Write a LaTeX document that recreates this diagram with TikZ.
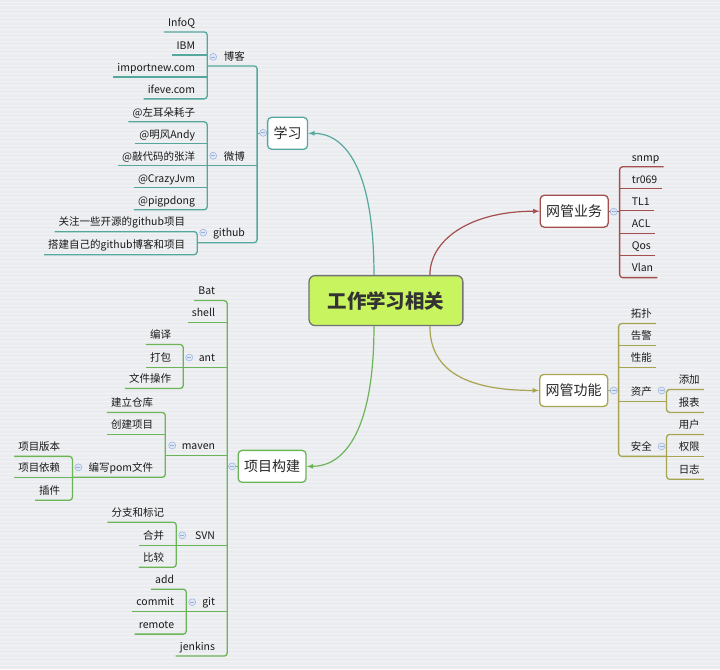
\documentclass[tikz,border=0pt]{standalone}
\usepackage{fontspec}
\setmainfont{Noto Sans CJK SC}
\usepackage{tikz}
\usetikzlibrary{arrows}
\tikzset{>=latex}
\definecolor{bgcolor}{RGB}{234,236,239}
\definecolor{stripe}{RGB}{242,243,245}
\definecolor{tealline}{RGB}{86,168,158}
\definecolor{greenline}{RGB}{108,180,88}
\definecolor{redline}{RGB}{164,78,78}
\definecolor{oliveline}{RGB}{168,164,80}
\definecolor{topicfill}{RGB}{200,244,96}
\definecolor{foldblue}{RGB}{150,176,222}
\tikzset{
  topic/.style={draw=black!55, fill=topicfill, rounded corners=6pt, line width=1.3pt,
    minimum width=154pt, minimum height=50pt, text=black!80,
    font=\fontsize{19.5}{22}\selectfont\bfseries},
  branch/.style={fill=white, rounded corners=4pt, line width=1.3pt, inner xsep=6pt,
    minimum height=32pt, text=black!85, font=\fontsize{14}{16}\selectfont},
  leaf/.style={inner xsep=4pt, inner ysep=3pt, text height=8pt, text depth=2.5pt,
    text=black!90, font=\fontsize{10.5}{12}\selectfont},
  link/.style={line width=1.3pt, rounded corners=3pt},
  curve/.style={line width=1.2pt, ->},
  fold/.pic={\draw[foldblue, fill=foldblue!30, line width=0.5pt] (0,0) circle (3.5pt);%
    \draw[foldblue, line width=0.8pt] (-2,0) -- (2,0);},
}

\begin{document}
\begin{tikzpicture}[x=1pt, y=-1pt]
  \fill[bgcolor] (0,0) rectangle (720,670);%
  \foreach \y in {2,6,...,668}
    \draw[stripe, line width=1pt] (0,\y) -- (720,\y);%
  \node[topic] (main) at (386,301) {工作学习相关};%
  % 学习
  \coordinate (xxS) at (257,0);%
  \coordinate (bkS) at (207,0);%
  \coordinate (wbS) at (207,0);%
  \coordinate (ghS) at (197,0);%
  \node[branch, draw=tealline] (xuexi) at (287.5,133.5) {学习};%
  \node[leaf, anchor=south east] (boke) at (249,66) {博客};%
  \node[leaf, anchor=south east] (weibo) at (249,166) {微博};%
  \node[leaf, anchor=south east] (gith) at (249,243) {github};%
  \foreach \n/\y/\t in {infoq/32/InfoQ, ibm/55/IBM, impnew/77/importnew.com, ifeve/99/ifeve.com}
    \node[leaf, anchor=south east] (\n) at (199,\y) {\t};%
  \foreach \n/\y/\t in {zuoer/122/@左耳朵耗子, mingfeng/144/@明风Andy, zhangyang/166/@敲代码的张洋,
      crazy/188/@CrazyJvm, pigp/210/@pigpdong}
    \node[leaf, anchor=south east] (\n) at (199,\y) {\t};%
  \foreach \n/\y/\t in {guanzhu/232/关注一些开源的github项目, dajian/255/搭建自己的github博客和项目}
    \node[leaf, anchor=south east] (\n) at (189,\y) {\t};%
  \draw[curve, tealline] ([xshift=-12pt]main.north) .. controls +(0,-110) and +(35,0) .. (xuexi.east);%
  \draw[link, tealline] (xuexi.west) -- (xuexi.west -| xxS);%
  \draw[link, tealline] (boke.south west -| bkS) -- (boke.south west -| xxS) -- (gith.south west -| xxS) -- (gith.south west -| ghS);%
  \draw[link, tealline] (weibo.south west -| wbS) -- (weibo.south west -| xxS);%
  \draw[link, tealline] (infoq.south west) -- (infoq.south west -| bkS) -- (ifeve.south west -| bkS) -- (ifeve.south west);%
  \foreach \n in {ibm, impnew}
    \draw[link, tealline] (\n.south west) -- (\n.south west -| bkS);%
  \draw[link, tealline] (zuoer.south west) -- (zuoer.south west -| wbS) -- (pigp.south west -| wbS) -- (pigp.south west);%
  \foreach \n in {mingfeng, zhangyang, crazy}
    \draw[link, tealline] (\n.south west) -- (\n.south west -| wbS);%
  \draw[link, tealline] (guanzhu.south west) -- (guanzhu.south west -| ghS) -- (dajian.south west -| ghS) -- (dajian.south west);%
  % 项目构建
  \coordinate (xmS) at (227,0);%
  \coordinate (antS) at (183,0);%
  \coordinate (mvS) at (165,0);%
  \coordinate (pomS) at (72,0);%
  \coordinate (svnS) at (176,0);%
  \coordinate (gitS) at (186,0);%
  \node[branch, draw=greenline] (xiangmu) at (272,467) {项目构建};%
  \foreach \n/\y/\t in {bat/301/Bat, shell/323/shell, ant/368/ant, maven/456/maven,
      svn/546/SVN, git/612/git, jenkins/657/jenkins}
    \node[leaf, anchor=south east] (\n) at (219,\y) {\t};%
  \foreach \n/\y/\t in {bianyi/345/编译, dabao/368/打包, wenjian/389/文件操作}
    \node[leaf, anchor=south east] (\n) at (175,\y) {\t};%
  \foreach \n/\y/\t in {cangku/413/建立仓库, chuangjian/435/创建项目, pom/478/编写pom文件}
    \node[leaf, anchor=south east] (\n) at (157,\y) {\t};%
  \foreach \n/\y/\t in {banben/457/项目版本, yilai/478/项目依赖, chajian/501/插件}
    \node[leaf, anchor=south east] (\n) at (64,\y) {\t};%
  \foreach \n/\y/\t in {fenzhi/523/分支和标记, hebing/546/合并, bijiao/568/比较}
    \node[leaf, anchor=south east] (\n) at (168,\y) {\t};%
  \foreach \n/\y/\t in {add/590/add, commit/612/commit, remote/635/remote}
    \node[leaf, anchor=south east] (\n) at (178,\y) {\t};%
  \draw[curve, greenline] ([xshift=-12pt]main.south) .. controls +(0,110) and +(35,0) .. (xiangmu.east);%
  \draw[link, greenline] (xiangmu.west) -- (xiangmu.west -| xmS);%
  \draw[link, greenline] (bat.south west) -- (bat.south west -| xmS) -- (jenkins.south west -| xmS) -- (jenkins.south west);%
  \draw[link, greenline] (shell.south west) -- (shell.south west -| xmS);%
  \foreach \n/\s in {ant/antS, maven/mvS, svn/svnS, git/gitS}
    \draw[link, greenline] (\n.south west -| \s) -- (\n.south west -| xmS);%
  \draw[link, greenline] (bianyi.south west) -- (bianyi.south west -| antS) -- (wenjian.south west -| antS) -- (wenjian.south west);%
  \draw[link, greenline] (dabao.south west) -- (dabao.south west -| antS);%
  \draw[link, greenline] (cangku.south west) -- (cangku.south west -| mvS) -- (pom.south west -| mvS) -- (pom.south west -| pomS);%
  \draw[link, greenline] (chuangjian.south west) -- (chuangjian.south west -| mvS);%
  \draw[link, greenline] (banben.south west) -- (banben.south west -| pomS) -- (chajian.south west -| pomS) -- (chajian.south west);%
  \draw[link, greenline] (yilai.south west) -- (yilai.south west -| pomS);%
  \draw[link, greenline] (fenzhi.south west) -- (fenzhi.south west -| svnS) -- (bijiao.south west -| svnS) -- (bijiao.south west);%
  \draw[link, greenline] (hebing.south west) -- (hebing.south west -| svnS);%
  \draw[link, greenline] (add.south west) -- (add.south west -| gitS) -- (remote.south west -| gitS) -- (remote.south west);%
  \draw[link, greenline] (commit.south west) -- (commit.south west -| gitS);%
  % 网管业务
  \coordinate (ywS) at (620,0);%
  \node[branch, draw=redline] (yewu) at (574.5,211.5) {网管业务};%
  \foreach \n/\y/\t in {snmp/167/snmp, tr/189/tr069, tl/211/TL1, acl/234/ACL, qos/256/Qos, vlan/278/Vlan}
    \node[leaf, anchor=south west] (\n) at (628,\y) {\t};%
  \draw[curve, redline] ([xshift=44pt]main.north) .. controls +(0,-35) and +(-70,0) .. (yewu.west);%
  \draw[link, redline] (yewu.east) -- (yewu.east -| ywS);%
  \draw[link, redline] (snmp.south east) -- (snmp.south east -| ywS) -- (vlan.south east -| ywS) -- (vlan.south east);%
  \foreach \n in {tr, tl, acl, qos}
    \draw[link, redline] (\n.south east) -- (\n.south east -| ywS);%
  % 网管功能
  \coordinate (gnS) at (619,0);%
  \coordinate (zcS) at (667,0);%
  \coordinate (aqS) at (667,0);%
  \node[branch, draw=oliveline] (gongneng) at (574,391) {网管功能};%
  \foreach \n/\y/\t in {tuopu/324/拓扑, gaojing/346/告警, xingneng/368/性能, zichan/402/资产, anquan/457/安全}
    \node[leaf, anchor=south west] (\n) at (627,\y) {\t};%
  \foreach \n/\y/\t in {tianjia/390/添加, baobiao/413/报表, yonghu/435/用户, quanxian/457/权限, rizhi/480/日志}
    \node[leaf, anchor=south west] (\n) at (675,\y) {\t};%
  \draw[curve, oliveline] ([xshift=44pt]main.south) .. controls +(0,40) and +(-80,0) .. (gongneng.west);%
  \draw[link, oliveline] (gongneng.east) -- (gongneng.east -| gnS);%
  \draw[link, oliveline] (tuopu.south east) -- (tuopu.south east -| gnS) -- (anquan.south west -| gnS) -- (anquan.south west -| aqS);%
  \foreach \n in {gaojing, xingneng}
    \draw[link, oliveline] (\n.south east) -- (\n.south east -| gnS);%
  \draw[link, oliveline] (zichan.south west -| gnS) -- (zichan.south west -| zcS);%
  \draw[link, oliveline] (tianjia.south east) -- (tianjia.south east -| zcS) -- (baobiao.south east -| zcS) -- (baobiao.south east);%
  \draw[link, oliveline] (yonghu.south east) -- (yonghu.south east -| aqS) -- (rizhi.south east -| aqS) -- (rizhi.south east);%
  \draw[link, oliveline] (quanxian.south east) -- (quanxian.south east -| aqS);%
  % fold marks
  \foreach \x/\y in {263/133, 213/57, 213/156, 203/233, 232/467, 189/358, 172/446, 78/468,
      182/536, 192/603, 614/212, 614/391, 662/391, 662/447}
    \pic at (\x,\y) {fold};%
\end{tikzpicture}
\end{document}
